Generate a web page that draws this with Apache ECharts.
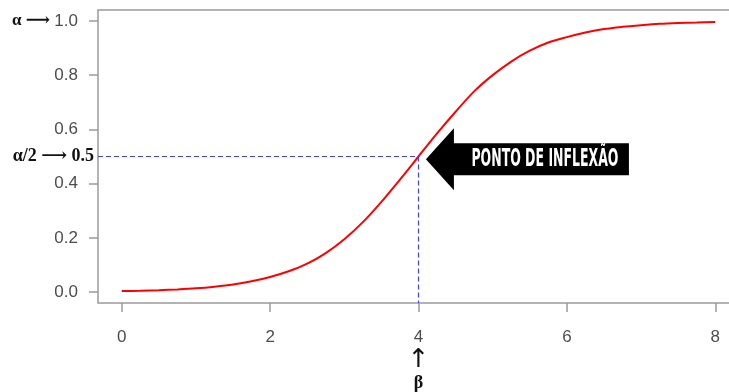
<!DOCTYPE html>
<html>
<head>
<meta charset="utf-8">
<script src="https://cdn.jsdelivr.net/npm/echarts@6/dist/echarts.min.js"></script>
<style>html,body{margin:0;padding:0;background:#fff}#c{width:729px;height:392px}</style>
</head>
<body>
<div id="c"></div>
<script>
// Values
const xValues = [0,0.25,0.5,0.75,1,1.25,1.5,1.75,2,2.25,2.5,2.75,3,3.25,3.5,3.75,4,4.25,4.5,4.75,5,5.25,5.5,5.75,6,6.25,6.5,6.75,7,7.25,7.5,7.75,8];
const yValues = [0.004,0.005,0.007,0.010,0.014,0.020,0.028,0.040,0.056,0.077,0.105,0.144,0.195,0.258,0.333,0.415,0.500,0.585,0.665,0.740,0.800,0.850,0.890,0.920,0.940,0.957,0.970,0.978,0.984,0.989,0.992,0.994,0.996];
const xTicks = [0,2,4,6,8];
const yTicks = [0,0.2,0.4,0.6,0.8,1.0];
const beta = 4;
const alphaHalf = 0.5;
const xMin = -0.32, xMax = 8.32, yMin = -0.04, yMax = 1.04;
const calloutText = 'PONTO DE INFLEXÃO';

const chart = echarts.init(document.getElementById('c'));
const labelColor = '#4d4d4d';
const frameColor = '#9a9a9a';

chart.setOption({
  animation: false,
  grid: {left: 98, width: 641, top: 10, height: 293, outerBoundsMode: 'none', containLabel: false, show: true, borderColor: frameColor, borderWidth: 1.5, backgroundColor: 'transparent'},
  xAxis: {
    type: 'value', min: xMin, max: xMax,
    axisLine: {show: false, onZero: false},
    splitLine: {show: false},
    axisTick: {show: true, customValues: xTicks, length: 9, lineStyle: {color: frameColor, width: 1.5}},
    axisLabel: {
      customValues: xTicks, margin: 24, fontSize: 17, lineHeight: 20,
      fontFamily: 'Liberation Sans, Arial, sans-serif', color: labelColor,
      formatter: v => v === beta ? v + '\n{up|↑}\n{b|β}' : String(v),
      rich: {
        up: {fontSize: 26, lineHeight: 26, color: '#111', fontFamily: 'DejaVu Sans'},
        b: {fontSize: 18, lineHeight: 20, fontWeight: 'bold', color: '#111', fontFamily: 'Liberation Serif, serif'}
      }
    }
  },
  yAxis: {
    type: 'value', min: yMin, max: yMax,
    axisLine: {show: false, onZero: false},
    splitLine: {show: false},
    axisTick: {show: true, customValues: yTicks, length: 9, lineStyle: {color: frameColor, width: 1.5}},
    axisLabel: {
      customValues: yTicks, margin: 20, fontSize: 17,
      fontFamily: 'Liberation Sans, Arial, sans-serif', color: labelColor,
      formatter: v => {
        const s = v.toFixed(1);
        return v === 1 ? '{a|α ⟶ }' + s : s;
      },
      rich: {
        a: {fontSize: 17, fontWeight: 'bold', color: '#111', fontFamily: 'Liberation Serif, DejaVu Serif, serif'}
      }
    }
  },
  series: [{
    type: 'line',
    data: xValues.map((x, i) => [x, yValues[i]]),
    smooth: 0.3,
    showSymbol: false,
    lineStyle: {color: '#ff0000', width: 2},
    z: 3,
    markLine: {
      silent: true, symbol: ['none', 'none'], label: {show: false},
      lineStyle: {type: [5, 3], color: '#4040ff', width: 1.2},
      data: [
        [{coord: [xMin, alphaHalf], lineStyle: {color: '#4040ff'}}, {coord: [beta, alphaHalf]}],
        [{coord: [beta, alphaHalf], lineStyle: {color: '#4040ff'}}, {coord: [beta, yMin]}]
      ]
    }
  }]
});

// annotations placed from data coordinates
const tip = chart.convertToPixel({gridIndex: 0}, [4.1, 0.49]);
const lbl = chart.convertToPixel({gridIndex: 0}, [xMin, alphaHalf]);
const tx = tip[0], ty = tip[1];
const font = 'bold 24px "DejaVu Sans Condensed"';
const cv = document.createElement('canvas').getContext('2d');
cv.font = font;
const tw = cv.measureText(calloutText).width || 200;

chart.setOption({
  graphic: [
    {
      type: 'polygon', z: 10,
      shape: {points: [[tx, ty], [tx + 28, ty - 31], [tx + 28, ty - 16], [tx + 203, ty - 16], [tx + 203, ty + 16], [tx + 28, ty + 16], [tx + 28, ty + 31]]},
      style: {fill: '#000'}
    },
    {
      type: 'text', z: 11, x: tx + 119, y: ty + 1, scaleX: 147 / tw,
      style: {text: calloutText, font: font, fill: '#fff', align: 'center', verticalAlign: 'middle'}
    },
    {
      type: 'text', z: 11, x: lbl[0] - 4, y: lbl[1],
      style: {text: 'α/2 ⟶ 0.5', font: 'bold 18px "Liberation Serif", "DejaVu Serif", serif', fill: '#111', align: 'right', verticalAlign: 'middle'}
    }
  ]
});
</script>
</body>
</html>
